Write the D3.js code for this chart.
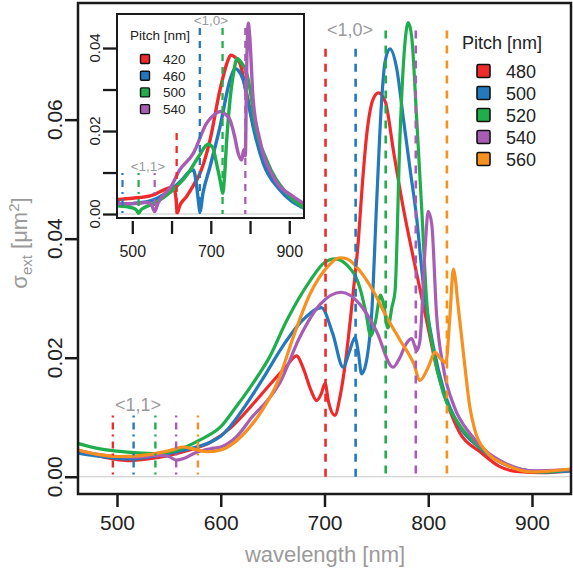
<!DOCTYPE html>
<html><head><meta charset="utf-8">
<script src="https://cdn.jsdelivr.net/npm/d3@7"></script>
<style>
html,body{margin:0;padding:0;background:#fff;}
svg{display:block;font-family:"Liberation Sans",Arial,Helvetica,sans-serif;}
</style></head>
<body>
<svg id="chart" width="573" height="573"></svg>
<script>
// ---------------- DATA ----------------
const pitchesMain = [480, 500, 520, 540, 560];
const pitchesInset = [420, 460, 500, 540];
const colorsMain = ["#ee2a2b", "#2479bd", "#1fae4b", "#a85db5", "#f7901e"];
const colorsInset = ["#ee2a2b", "#2479bd", "#1fae4b", "#a85db5"];
// <1,0> and <1,1> diffraction (Rayleigh) wavelengths [nm]
const lam10Main = [701, 730, 759, 788, 818];
const lam11Main = [496, 516, 537, 557, 578];
const lam10Inset = [613, 672, 730, 788];
const lam11Inset = [434, 475, 516, 557];

const xTicksMain = [500, 600, 700, 800, 900];
const yTicksMain = [0, 0.02, 0.04, 0.06];
const yTickLabelsMain = ["0.00", "0.02", "0.04", "0.06"];
const xTicksInset = [500, 600, 700, 800, 900];
const xTickLabelsInset = ["500", "", "700", "", "900"];
const yTicksInset = [0, 0.01, 0.02, 0.03, 0.04];
const yTickLabelsInset = ["0.00", "", "0.02", "", "0.04"];

// main spectra [wavelength nm, sigma_ext um^2]
const main480 = [[462,0.0045],[480,0.0036],[496,0.003],[510,0.0027],[530,0.003],[550,0.0036],[570,0.0045],[590,0.0058],[610,0.0083],[630,0.012],[650,0.016],[663,0.0185],[673,0.0203],[680,0.018],[687,0.0145],[692.5,0.0128],[697,0.014],[700.5,0.0157],[704,0.0125],[710,0.0103],[715,0.0135],[720,0.019],[727.8,0.0312],[732.6,0.0396],[736,0.048],[740.7,0.0575],[747,0.0635],[752,0.0645],[758.6,0.063],[766.6,0.0546],[776,0.0451],[785.6,0.0368],[798.5,0.0262],[808,0.0184],[818,0.0125],[830.6,0.0073],[850,0.0042],[869,0.0017],[885,0.0009],[910,0.0007],[937,0.001]];
const main500 = [[462,0.004],[480,0.0035],[500,0.0031],[516,0.003],[530,0.0033],[550,0.0039],[570,0.0047],[590,0.0058],[600,0.0068],[620,0.011],[640,0.0163],[660,0.022],[680,0.0265],[697,0.0284],[708,0.024],[718,0.0184],[724,0.021],[729.4,0.0234],[732.5,0.021],[735.8,0.0173],[741,0.020],[745.5,0.0274],[750.3,0.0462],[755,0.063],[758.3,0.0697],[763,0.0719],[769.6,0.0686],[776,0.0602],[782.4,0.0518],[788.8,0.0435],[795.2,0.0324],[805,0.0218],[815,0.0145],[830,0.0085],[850,0.0048],[870,0.0024],[890,0.0012],[910,0.0008],[937,0.001]];
const main520 = [[462,0.0056],[480,0.0048],[500,0.0043],[520,0.004],[537,0.0039],[560,0.0046],[580,0.0062],[600,0.0084],[615,0.0118],[631,0.0157],[647,0.0201],[663.5,0.0262],[686,0.0329],[700,0.036],[710,0.0366],[722,0.0355],[734,0.0318],[740,0.0275],[744.5,0.0237],[749,0.026],[754,0.0305],[757,0.029],[761,0.025],[765,0.0285],[768,0.0312],[772.8,0.0574],[777.6,0.073],[780.8,0.0763],[784,0.074],[788.9,0.060],[793.7,0.045],[798.5,0.0295],[805,0.021],[815,0.0138],[830,0.0087],[850,0.0049],[870,0.0025],[890,0.0012],[910,0.0008],[937,0.0012]];
const main540 = [[462,0.0045],[480,0.0038],[500,0.0034],[520,0.0033],[540,0.0036],[550,0.0034],[557,0.0028],[565,0.0031],[575,0.004],[590,0.0047],[600,0.005],[615,0.0067],[631,0.0102],[645,0.0128],[657,0.0158],[676,0.0234],[696,0.029],[716,0.031],[734,0.029],[750,0.0245],[766,0.0184],[772,0.0198],[779,0.0224],[784,0.0232],[789,0.0212],[792,0.0229],[797,0.0385],[800,0.0446],[803.4,0.0424],[808,0.0273],[814.5,0.0184],[825,0.0118],[840,0.0073],[855,0.0044],[875,0.0022],[900,0.001],[937,0.0012]];
const main560 = [[462,0.0045],[480,0.0038],[500,0.0034],[520,0.0035],[540,0.004],[555,0.0046],[563,0.005],[575,0.0046],[587,0.0042],[600,0.0045],[620,0.0068],[640,0.0112],[655,0.016],[670,0.0235],[686,0.0307],[702,0.0351],[715,0.0368],[722,0.0366],[734,0.0346],[747,0.0312],[760,0.0268],[773,0.0229],[786,0.019],[792,0.0162],[800,0.0184],[806.5,0.0209],[812,0.0198],[817,0.0192],[821,0.0273],[824.2,0.0349],[829,0.0284],[835.4,0.0184],[840,0.0118],[845,0.0078],[856,0.0042],[875,0.002],[900,0.0008],[937,0.0013]];

// inset spectra
const in420 = [[462,0.0035],[500,0.0038],[550,0.0045],[590,0.0062],[605,0.0066],[611,0.004],[614.7,0.0003],[620,0.0018],[638,0.0042],[655,0.0068],[672.5,0.0098],[698,0.0178],[723.4,0.0299],[740,0.036],[750.7,0.0383],[760,0.0379],[774.4,0.0363],[787,0.031],[800,0.0251],[825.4,0.0154],[859,0.0082],[901.8,0.0038],[937,0.0026]];
const in460 = [[462,0.003],[475,0.0022],[500,0.0025],[550,0.0033],[600,0.006],[630,0.0086],[645,0.0102],[655.5,0.0106],[663,0.0075],[668,0.0035],[672.5,0.0006],[680,0.005],[698,0.0114],[723.4,0.021],[749,0.0323],[761.6,0.0351],[770,0.0346],[782.8,0.0323],[795,0.027],[808,0.021],[833.8,0.0122],[876,0.0058],[937,0.0014]];
const in500 = [[462,0.002],[500,0.0015],[510,0.001],[516,0.0002],[522,0.001],[530,0.0015],[560,0.0028],[600,0.0055],[640,0.0095],[670,0.014],[693,0.0168],[705,0.016],[715,0.012],[725,0.0075],[730.3,0.005],[735,0.009],[740,0.017],[749,0.0275],[758,0.034],[767.6,0.0375],[775,0.0368],[791.5,0.0339],[800,0.030],[812.6,0.0219],[842.4,0.013],[893.4,0.005],[937,0.0015]];
const in540 = [[462,0.0025],[500,0.0025],[540,0.0028],[550,0.002],[557,0.0006],[565,0.0025],[600,0.0068],[620,0.0105],[655.5,0.0146],[689.5,0.0219],[710,0.024],[723.4,0.0247],[735,0.0242],[749,0.0227],[760,0.019],[770,0.0146],[778.7,0.013],[784,0.0155],[788,0.014],[791,0.033],[795.5,0.046],[799,0.043],[808,0.0275],[825,0.0178],[859,0.009],[910,0.0042],[937,0.0026]];

const mainSeries = [main480, main500, main520, main540, main560];
const insetSeries = [in420, in460, in500, in540];

// ---------------- DRAW ----------------
const svg = d3.select("#chart");
const GRAY = "#9a9a9a";
const AX = "#1a1a1a";

// main panel
const M = {l:78, r:571, t:3, b:494};
const x = d3.scaleLinear().domain([462.4, 937.6]).range([M.l, M.r]);
const y = d3.scaleLinear().domain([-0.0029, 0.0796]).range([M.b, M.t]);

svg.append("defs").append("clipPath").attr("id","clipMain")
  .append("rect").attr("x",M.l).attr("y",M.t).attr("width",M.r-M.l).attr("height",M.b-M.t);

const gMain = svg.append("g");
// zero line
gMain.append("line").attr("x1",M.l).attr("x2",M.r).attr("y1",y(0)).attr("y2",y(0))
  .attr("stroke","#c8c8c8").attr("stroke-width",1.2);

const line = d3.line().x(d=>x(d[0])).y(d=>y(d[1])).curve(d3.curveMonotoneX);
const curves = gMain.append("g").attr("clip-path","url(#clipMain)");
mainSeries.forEach((s,i)=>{
  curves.append("path").datum(s).attr("d",line).attr("fill","none")
    .attr("stroke",colorsMain[i]).attr("stroke-width",3.2).attr("stroke-linejoin","round");
});

// diffraction lines
const top10Main = [0.0719,0.0719,0.075,0.075,0.075];
lam10Main.forEach((l,i)=>{
  gMain.append("line").attr("x1",x(l)).attr("x2",x(l)).attr("y1",y(top10Main[i])).attr("y2",y(0))
    .attr("stroke",colorsMain[i]).attr("stroke-width",2.6).attr("stroke-dasharray","8,7");
});
lam11Main.forEach((l,i)=>{
  gMain.append("line").attr("x1",x(l)).attr("x2",x(l)).attr("y1",y(0.0103)).attr("y2",y(0))
    .attr("stroke",colorsMain[i]).attr("stroke-width",2.4).attr("stroke-dasharray","2,5,7,5");
});
gMain.append("text").attr("x",350).attr("y",36).attr("text-anchor","middle")
  .attr("font-size",18).attr("fill",GRAY).text("<1,0>");
gMain.append("text").attr("x",138).attr("y",411).attr("text-anchor","middle")
  .attr("font-size",18).attr("fill",GRAY).text("<1,1>");

// box
svg.append("rect").attr("x",M.l).attr("y",M.t).attr("width",M.r-M.l).attr("height",M.b-M.t)
  .attr("fill","none").attr("stroke",AX).attr("stroke-width",2.5);

// x axis
const xAxis = d3.axisBottom(x).tickValues(xTicksMain).tickSize(13).tickPadding(8).tickFormat(d3.format("d"));
const gx = svg.append("g").attr("transform",`translate(0,${M.b})`).call(xAxis);
gx.select(".domain").remove();
gx.selectAll(".tick line").attr("stroke",AX).attr("stroke-width",2.5);
gx.selectAll(".tick text").attr("font-size",21).attr("fill","#222").attr("font-family","Liberation Sans, Arial, sans-serif");

// y axis
const yAxis = d3.axisLeft(y).tickValues(yTicksMain).tickSize(13).tickFormat("");
const gy = svg.append("g").attr("transform",`translate(${M.l},0)`).call(yAxis);
gy.select(".domain").remove();
gy.selectAll(".tick line").attr("stroke",AX).attr("stroke-width",2.5);
yTicksMain.forEach((v,i)=>{
  svg.append("text").attr("transform",`translate(62,${y(v)}) rotate(-90)`)
    .attr("text-anchor","middle").attr("font-size",21).attr("fill","#222").text(yTickLabelsMain[i]);
});

// axis titles
svg.append("text").attr("x",325).attr("y",562).attr("text-anchor","middle")
  .attr("font-size",22).attr("fill",GRAY).text("wavelength [nm]");
const yt = svg.append("text").attr("transform","translate(27,243) rotate(-90)")
  .attr("text-anchor","middle").attr("font-size",22).attr("fill",GRAY);
yt.append("tspan").text("σ");
yt.append("tspan").attr("dy",5).attr("font-size",15).text("ext");
yt.append("tspan").attr("dy",-5).text(" [μm");
yt.append("tspan").attr("dy",-8).attr("font-size",15).text("2");
yt.append("tspan").attr("dy",8).text("]");

// main legend
const leg = svg.append("g");
leg.append("text").attr("x",502).attr("y",49).attr("text-anchor","middle").attr("font-size",18).attr("fill","#222").text("Pitch [nm]");
pitchesMain.forEach((p,i)=>{
  const cy = 71 + i*22;
  leg.append("rect").attr("x",477).attr("y",cy-6.5).attr("width",13).attr("height",13)
    .attr("fill",colorsMain[i]).attr("stroke","#111").attr("stroke-width",1.6).attr("rx",1.5);
  leg.append("text").attr("x",506).attr("y",cy+6.5).attr("font-size",18).attr("fill","#222").text(p);
});

// ---------------- INSET ----------------
const I = {l:117, r:304, t:14, b:218};
const xi = d3.scaleLinear().domain([461, 937.5]).range([I.l, I.r]);
const yi = d3.scaleLinear().domain([-0.00096, 0.0482]).range([I.b, I.t]);
svg.select("defs").append("clipPath").attr("id","clipInset")
  .append("rect").attr("x",I.l).attr("y",I.t).attr("width",I.r-I.l).attr("height",I.b-I.t);

const gIn = svg.append("g");
gIn.append("rect").attr("x",I.l).attr("y",I.t).attr("width",I.r-I.l).attr("height",I.b-I.t).attr("fill","#fff");
gIn.append("line").attr("x1",I.l).attr("x2",I.r).attr("y1",yi(0)).attr("y2",yi(0))
  .attr("stroke","#c8c8c8").attr("stroke-width",1.2);
const linei = d3.line().x(d=>xi(d[0])).y(d=>yi(d[1])).curve(d3.curveMonotoneX);
const ci = gIn.append("g").attr("clip-path","url(#clipInset)");
insetSeries.forEach((s,i)=>{
  ci.append("path").datum(s).attr("d",linei).attr("fill","none")
    .attr("stroke",colorsInset[i]).attr("stroke-width",3.4).attr("stroke-linejoin","round");
});
const top10Inset = [0.0195,0.0448,0.0448,0.0448];
const ciL = gIn.append("g").attr("clip-path","url(#clipInset)");
lam10Inset.forEach((l,i)=>{
  ciL.append("line").attr("x1",xi(l)).attr("x2",xi(l)).attr("y1",yi(top10Inset[i])).attr("y2",yi(0))
    .attr("stroke",colorsInset[i]).attr("stroke-width",2.3).attr("stroke-dasharray","7,6");
});
lam11Inset.forEach((l,i)=>{
  ciL.append("line").attr("x1",xi(l)).attr("x2",xi(l)).attr("y1",yi(0.0099)).attr("y2",yi(0))
    .attr("stroke",colorsInset[i]).attr("stroke-width",2.2).attr("stroke-dasharray","2,5,7,5");
});
gIn.append("text").attr("x",211).attr("y",25).attr("text-anchor","middle").attr("font-size",13.5).attr("fill",GRAY).text("<1,0>");
gIn.append("text").attr("x",148).attr("y",171).attr("text-anchor","middle").attr("font-size",13.5).attr("fill",GRAY).text("<1,1>");
gIn.append("rect").attr("x",I.l).attr("y",I.t).attr("width",I.r-I.l).attr("height",I.b-I.t)
  .attr("fill","none").attr("stroke",AX).attr("stroke-width",2);

// inset axes
const gxi = svg.append("g").attr("transform",`translate(0,${I.b+3})`)
  .call(d3.axisBottom(xi).tickValues(xTicksInset).tickSize(13).tickPadding(12).tickFormat((d,i)=>xTickLabelsInset[i]));
gxi.select(".domain").remove();
gxi.selectAll(".tick line").attr("stroke",AX).attr("stroke-width",2.3);
gxi.selectAll(".tick text").attr("font-size",16).attr("fill","#222").attr("font-family","Liberation Sans, Arial, sans-serif");
const gyi = svg.append("g").attr("transform",`translate(${I.l},0)`)
  .call(d3.axisLeft(yi).tickValues(yTicksInset).tickSize(14).tickFormat(""));
gyi.select(".domain").remove();
gyi.selectAll(".tick line").attr("stroke",AX).attr("stroke-width",2.3);
yTicksInset.forEach((v,i)=>{
  if(!yTickLabelsInset[i]) return;
  svg.append("text").attr("transform",`translate(100,${yi(v)}) rotate(-90)`)
    .attr("text-anchor","middle").attr("font-size",15).attr("fill","#222").text(yTickLabelsInset[i]);
});

// inset legend
const legI = svg.append("g");
legI.append("text").attr("x",160).attr("y",40).attr("text-anchor","middle").attr("font-size",13.5).attr("fill","#222").text("Pitch [nm]");
pitchesInset.forEach((p,i)=>{
  const cy = 59 + i*16.7;
  legI.append("rect").attr("x",140.5).attr("y",cy-4.5).attr("width",9).attr("height",9)
    .attr("fill",colorsInset[i]).attr("stroke","#111").attr("stroke-width",1.4).attr("rx",1);
  legI.append("text").attr("x",163).attr("y",cy+5).attr("font-size",13.5).attr("fill","#222").text(p);
});
</script>
</body></html>
